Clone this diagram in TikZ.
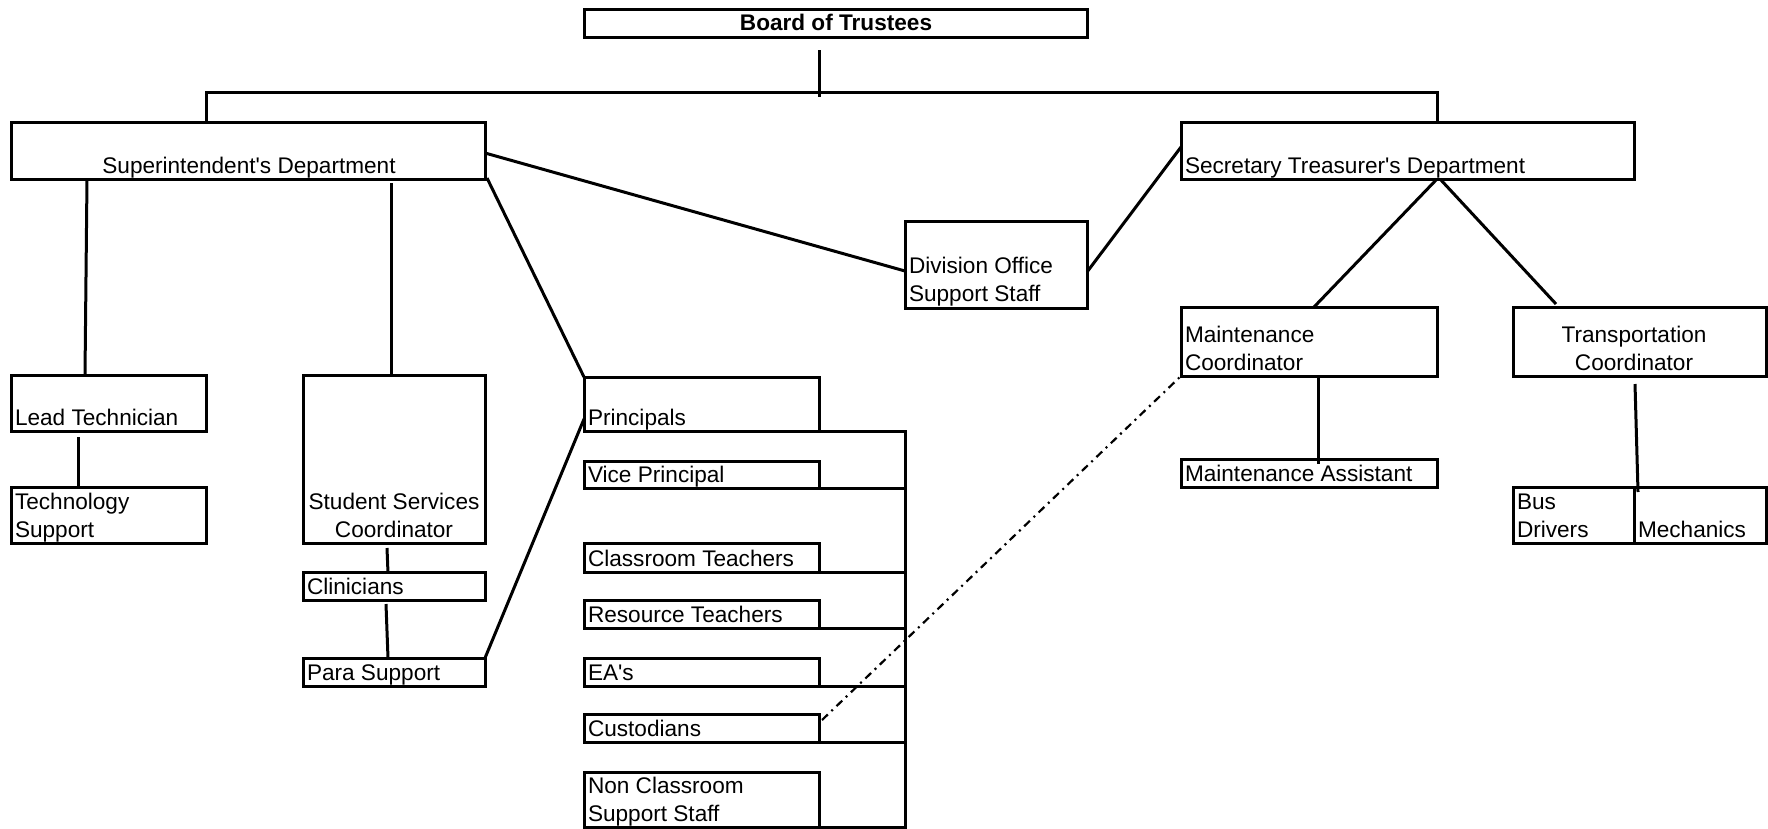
\documentclass[tikz,border=0pt]{standalone}
\usepackage{fontspec}
\setmainfont{Liberation Sans}
\usetikzlibrary{calc}
\begin{document}
\begin{tikzpicture}[x=1pt,y=-1pt,
  box/.style={draw, line width=3pt, inner sep=0pt, outer sep=0pt},
  txt/.style={inner sep=0pt, outer sep=0pt, font=\fontsize{22.6}{28}\selectfont},
  conn/.style={line width=3pt},
  dashdot/.style={line width=2.2pt, dash pattern=on 8pt off 5pt on 2pt off 5pt}]
\useasboundingbox (0,0) rectangle (1768,828);
\fill[white] (0,0) rectangle (1768,828);

% boxes
\node[box, minimum width=503pt, minimum height=28pt] (board) at (835.5,23) {};
\node[box, minimum width=474pt, minimum height=57pt] (super) at (248,150.5) {};
\node[box, minimum width=453pt, minimum height=57pt] (sec) at (1407.5,150.5) {};
\node[box, minimum width=182pt, minimum height=87pt] (div) at (996,264.5) {};
\node[box, minimum width=195pt, minimum height=56pt] (lead) at (108.5,403) {};
\node[box, minimum width=195pt, minimum height=56pt] (tech) at (108.5,515) {};
\node[box, minimum width=182pt, minimum height=168pt] (ssc) at (394,459) {};
\node[box, minimum width=182pt, minimum height=28pt] (clin) at (394,586) {};
\node[box, minimum width=182pt, minimum height=28pt] (para) at (394,672) {};
\node[box, minimum width=235pt, minimum height=54pt] (princ) at (701.5,404) {};
\node[box, minimum width=235pt, minimum height=27pt] (vice) at (701.5,474.5) {};
\node[box, minimum width=235pt, minimum height=29pt] (class) at (701.5,557.5) {};
\node[box, minimum width=235pt, minimum height=28pt] (res) at (701.5,614) {};
\node[box, minimum width=235pt, minimum height=28pt] (ea) at (701.5,672) {};
\node[box, minimum width=235pt, minimum height=28pt] (cust) at (701.5,728) {};
\node[box, minimum width=235pt, minimum height=55pt] (noncl) at (701.5,799.5) {};
\node[box, minimum width=256pt, minimum height=69pt] (maint) at (1309,341.5) {};
\node[box, minimum width=253pt, minimum height=69pt] (trans) at (1639.5,341.5) {};
\node[box, minimum width=256pt, minimum height=28pt] (masst) at (1309,473) {};
\node[box, minimum width=121pt, minimum height=56pt] (bus) at (1573.5,515) {};
\node[box, minimum width=132pt, minimum height=56pt] (mech) at (1700,515) {};

% texts
\node[txt, anchor=base] (t-board) at (836,30) {\bfseries Board of Trustees};
\node[txt, anchor=base] (t-super) at (249,173) {Superintendent\textquotesingle s Department};
\node[txt, anchor=base west] (t-sec) at (1185,173) {Secretary Treasurer\textquotesingle s Department};
\node[txt, anchor=base west] (t-div1) at (909,273) {Division Office};
\node[txt, anchor=base west] (t-div2) at (909,301) {Support Staff};
\node[txt, anchor=base west] (t-lead) at (15,425) {Lead Technician};
\node[txt, anchor=base west] (t-tech1) at (15,509) {Technology};
\node[txt, anchor=base west] (t-tech2) at (15,537) {Support};
\node[txt, anchor=base] (t-ssc1) at (394,509) {Student Services};
\node[txt, anchor=base] (t-ssc2) at (394,537) {Coordinator};
\node[txt, anchor=base west] (t-clin) at (307,594) {Clinicians};
\node[txt, anchor=base west] (t-para) at (307,680) {Para Support};
\node[txt, anchor=base west] (t-princ) at (588,425) {Principals};
\node[txt, anchor=base west] (t-vice) at (588,482) {Vice Principal};
\node[txt, anchor=base west] (t-class) at (588,566) {Classroom Teachers};
\node[txt, anchor=base west] (t-res) at (588,622) {Resource Teachers};
\node[txt, anchor=base west] (t-ea) at (588,680) {EA\textquotesingle s};
\node[txt, anchor=base west] (t-cust) at (588,736) {Custodians};
\node[txt, anchor=base west] (t-noncl1) at (588,793) {Non Classroom};
\node[txt, anchor=base west] (t-noncl2) at (588,821) {Support Staff};
\node[txt, anchor=base west] (t-maint1) at (1185,342) {Maintenance};
\node[txt, anchor=base west] (t-maint2) at (1185,370) {Coordinator};
\node[txt, anchor=base] (t-trans1) at (1634,342) {Transportation};
\node[txt, anchor=base] (t-trans2) at (1634,370) {Coordinator};
\node[txt, anchor=base west] (t-masst) at (1185,481) {Maintenance Assistant};
\node[txt, anchor=base west] (t-bus1) at (1517,509) {Bus};
\node[txt, anchor=base west] (t-bus2) at (1517,537) {Drivers};
\node[txt, anchor=base west] (t-mech) at (1638,537) {Mechanics};

% connectors
\coordinate (stemT) at (819,50);
\coordinate (stemB) at (819,97);
\coordinate (barL) at (206,92.5);
\coordinate (barR) at (1437,92.5);
\coordinate (brk) at (905,431);
\draw[conn] (stemT) -- (stemB);
\draw[conn] (super.north -| barL) -- (barL) -- (barR) -- (sec.north -| barR);
\draw[conn] ($(super.north east)+(0,31)$) -- ($(div.north west)+(0,50)$);
\draw[conn] ($(div.north east)+(0,51)$) -- ($(sec.north west)+(0,25)$);
\draw[conn] ($(super.south west)+(76,0)$) -- ($(lead.north west)+(74,0)$);
\draw[conn] ($(super.south west)+(380,4)$) -- ($(ssc.north west)+(88,0)$);
\draw[conn] ($(super.south east)+(2,-1)$) -- (princ.north west);
\draw[conn] ($(lead.south west)+(67,6)$) -- ($(tech.north west)+(67,0)$);
\draw[conn] ($(ssc.south west)+(84,5)$) -- ($(clin.north west)+(85,1)$);
\draw[conn] ($(clin.south west)+(83,4)$) -- ($(para.north west)+(85,0)$);
\draw[conn] (para.north east) -- ($(princ.north west)+(0,42)$);
\draw[line width=3pt] (princ.south east) -- (brk) -- (brk |- noncl.south east) -- (noncl.south east);
\draw[line width=3pt] (vice.south east) -- (vice.south east -| brk);
\draw[line width=3pt] (class.south east) -- (class.south east -| brk);
\draw[line width=3pt] (res.south east) -- (res.south east -| brk);
\draw[line width=3pt] (ea.south east) -- (ea.south east -| brk);
\draw[line width=3pt] (cust.south east) -- (cust.south east -| brk);
\draw[dashdot] ($(cust.north east)+(3,6)$) -- (maint.south west);
\draw[conn] ($(sec.south west)+(256,0)$) -- ($(maint.north west)+(133,0)$);
\draw[conn] ($(sec.south west)+(259,0)$) -- ($(trans.north west)+(43,-3)$);
\draw[conn] ($(maint.south west)+(137,0)$) -- ($(masst.north west)+(137,5)$);
\draw[conn] ($(trans.south west)+(122,8)$) -- ($(bus.north east)+(4,5)$);
\end{tikzpicture}
\end{document}
